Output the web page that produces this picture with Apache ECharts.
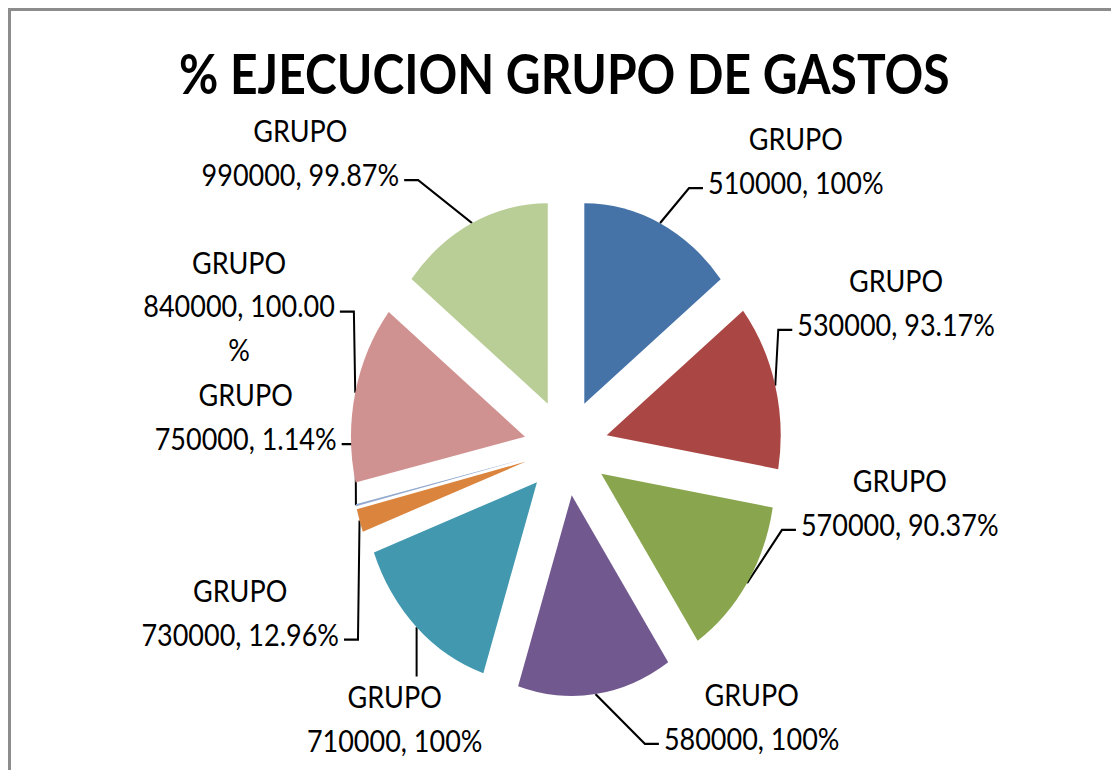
<!DOCTYPE html>
<html>
<head>
<meta charset="utf-8">
<script src="https://cdn.jsdelivr.net/npm/echarts@6/dist/echarts.min.js"></script>
<style>
  html, body { margin: 0; padding: 0; background: #fff; overflow: hidden; }
  #frame { position: absolute; left: 8px; top: 8px; width: 1200px; height: 900px;
           border-top: 3px solid #8c8c8c; border-left: 3px solid #8c8c8c; }
  /* the original picture is stretched vertically, so the chart is too */
  #pie { position: absolute; left: 0; top: 0; width: 1111px; height: 668px;
         transform-origin: 0 0; transform: scaleY(1.153); }
</style>
</head>
<body>
<div id="frame"></div>
<div id="pie"></div>
<script>
const categories = ['GRUPO 510000', 'GRUPO 530000', 'GRUPO 570000', 'GRUPO 580000', 'GRUPO 710000',
  'GRUPO 730000', 'GRUPO 750000', 'GRUPO 840000', 'GRUPO 990000'];
const values = [100, 93.17, 90.37, 100, 100, 12.96, 1.14, 100, 99.87];
const valueLabels = ['100%', '93.17%', '90.37%', '100%', '100%', '12.96%', '1.14%', '100.00%', '99.87%'];
const colors = ['#4572A7', '#AA4643', '#89A54E', '#71588F', '#4198AF', '#DB843D', '#93A9CF', '#D09290', '#B9CD96'];
// nudges so the labels sit where Excel's "best fit" put them
const labelNudge = [[15, -26], [-28, -65], [8, -88], [45, -13], [107, 22], [12, 15], [28, -85], [25, -69], [-40, -33]];
// leader of 710000 drops straight onto the top of its label
const leaderToTop = [false, false, false, false, true, false, false, false, false];

const LINE_H = 38;

// Excel wraps a label line once it gets past 14 characters
function wrap(s) {
  const out = [];
  while (s.length > 14) { out.push(s.slice(0, 14)); s = s.slice(14); }
  out.push(s);
  return out;
}

const chart = echarts.init(document.getElementById('pie'), null, { renderer: 'svg' });

const option = {
  animation: false,
  title: {
    text: '% EJECUCION GRUPO DE GASTOS',
    left: 174,
    top: 34,
    textStyle: { fontFamily: 'Lato', fontWeight: 'bold', fontSize: 48, color: '#000' }
  },
  series: [
    {
      type: 'pie',
      center: [566, 388],
      radius: 174,
      startAngle: 90,
      clockwise: true,
      selectedMode: 'multiple',
      selectedOffset: 42,
      data: categories.map((name, i) => ({
        name: name,
        value: values[i],
        selected: true,
        itemStyle: { color: colors[i] }
      })),
      label: {
        show: true,
        position: 'outside',
        formatter: p => {
          const parts = p.name.split(' ');
          const lines = [parts[0]].concat(wrap(parts[1] + ', ' + valueLabels[p.dataIndex]));
          return lines.map(l => '{a|' + l + '}').join('\n');
        },
        rich: { a: { align: 'center', fontFamily: 'Lato', fontSize: 27, lineHeight: LINE_H, color: '#000' } }
      },
      labelLine: { show: true, length: 32, length2: 14, lineStyle: { color: '#000', width: 2 } },
      labelLayout: p => {
        const i = p.dataIndex;
        const [dx, dy] = labelNudge[i];
        const out = { dx: dx, dy: dy };
        const pts = p.labelLinePoints;
        if (pts) {
          const h = p.labelRect.height;
          const midY = pts[2][1] + dy;
          if (leaderToTop[i]) {
            const top = midY - h / 2 - 3;
            out.labelLinePoints = [pts[0], [pts[0][0], top], [pts[0][0], top]];
          } else {
            // attach beside the second text line, like Excel does
            const y = midY - h / 2 + LINE_H * 1.5;
            out.labelLinePoints = [pts[0], [pts[1][0] + dx, y], [pts[2][0] + dx, y]];
          }
        }
        return out;
      },
      emphasis: { disabled: true },
      select: { itemStyle: { borderWidth: 0 } }
    }
  ]
};
chart.setOption(option);
</script>
</body>
</html>
